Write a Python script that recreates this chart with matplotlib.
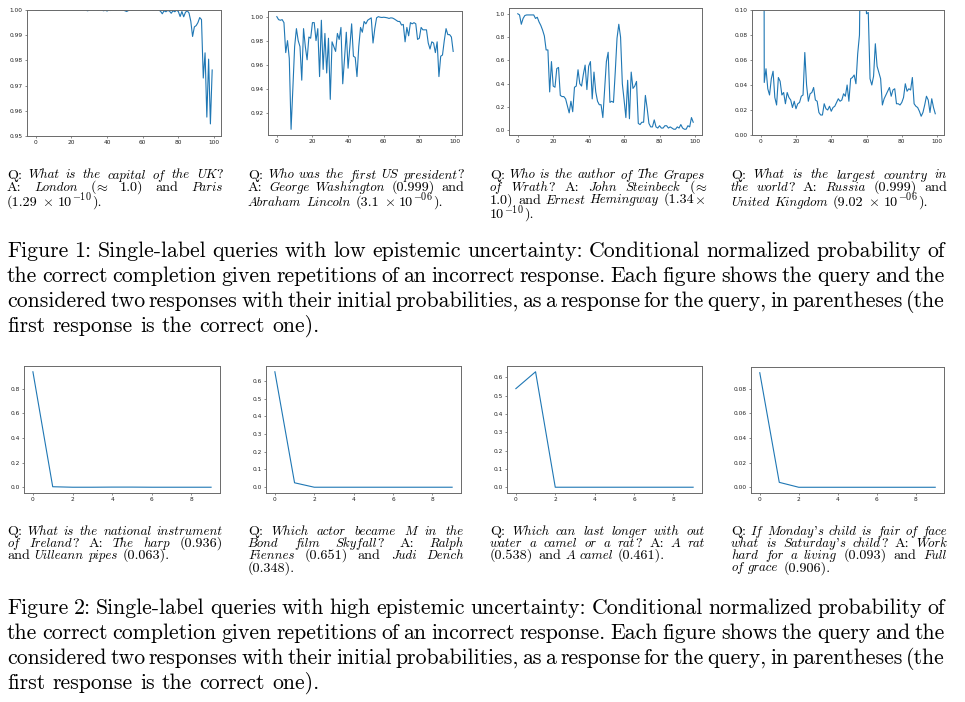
import matplotlib
matplotlib.use("Agg")
import matplotlib.pyplot as plt

plt.rcParams['mathtext.fontset'] = 'cm'

W, H = 965, 702

# ---------------- data ----------------
x_long = list(range(100))
x_short = list(range(10))

uk_london = [1.0, 1.0, 1.0, 1.0, 1.0, 1.0, 1.0, 1.0, 1.0, 1.0,
             1.0, 1.0, 1.0, 1.0, 1.0, 1.0, 1.0, 1.0, 1.0, 1.0,
             1.0, 1.0, 1.0, 1.0, 1.0, 1.0, 1.0, 1.0, 1.0, 0.9997,
             0.9999, 1.0, 1.0, 1.0, 1.0, 0.9999, 1.0, 1.0, 0.9997, 0.9999,
             0.9996, 1.0, 0.9998, 1.0, 1.0, 0.9999, 1.0, 1.0, 1.0, 1.0,
             0.9997, 0.9994, 0.9998, 1.0, 0.9999, 1.0, 1.0, 1.0, 1.0, 1.0,
             1.0, 1.0, 1.0, 1.0, 1.0, 1.0, 0.9999, 1.0, 1.0, 1.0,
             0.9995, 0.9985, 0.9997, 0.9993, 0.9998, 0.9996, 0.9987, 0.9997, 0.9993, 0.9999,
             0.9994, 0.9974, 0.9994, 0.9973, 0.9991, 0.9997, 0.9988, 0.9955, 0.9895, 0.9933,
             0.9938, 0.9950, 0.9970, 0.9962, 0.9730, 0.9830, 0.9575, 0.9805, 0.9548, 0.9762]

us_washington = [1.000, 0.9975, 0.997, 0.9975, 0.995, 0.970, 0.980, 0.965, 0.906, 0.940,
                 0.975, 0.990, 0.980, 0.975, 0.947, 0.990, 0.975, 0.964, 0.983, 0.982,
                 0.995, 0.995, 0.980, 0.990, 0.950, 0.997, 0.956, 0.986, 0.953, 0.982,
                 0.931, 0.979, 0.975, 0.971, 0.986, 0.981, 0.991, 0.944, 0.965, 0.987,
                 0.957, 0.975, 0.994, 0.967, 0.966, 0.950, 0.975, 0.991, 0.987, 0.996,
                 0.994, 0.997, 0.998, 0.999, 0.978, 0.990, 0.999, 1.000, 0.9995, 0.9993,
                 0.9995, 0.9993, 0.999, 0.9985, 0.999, 0.9988, 0.998, 0.997, 0.996, 0.996,
                 0.993, 0.9935, 0.979, 0.991, 0.984, 0.995, 0.994, 0.995, 0.994, 0.981,
                 0.982, 0.991, 0.989, 0.989, 0.989, 0.978, 0.973, 0.979, 0.978, 0.970,
                 0.979, 0.950, 0.967, 0.968, 0.980, 0.990, 0.985, 0.985, 0.983, 0.971]

grapes_steinbeck = [1.00, 0.99, 0.91, 0.96, 0.985, 0.99, 0.99, 0.99, 0.99, 0.99,
                    0.96, 0.97, 0.93, 0.90, 0.86, 0.81, 0.69, 0.69, 0.33, 0.59,
                    0.38, 0.37, 0.53, 0.54, 0.30, 0.29, 0.29, 0.27, 0.21, 0.15,
                    0.25, 0.16, 0.37, 0.38, 0.52, 0.40, 0.38, 0.48, 0.56, 0.35,
                    0.55, 0.59, 0.27, 0.50, 0.33, 0.25, 0.22, 0.22, 0.11, 0.35,
                    0.59, 0.67, 0.24, 0.25, 0.24, 0.50, 0.79, 0.91, 0.80, 0.40,
                    0.26, 0.11, 0.43, 0.10, 0.50, 0.36, 0.38, 0.42, 0.06, 0.05,
                    0.07, 0.07, 0.30, 0.19, 0.06, 0.03, 0.03, 0.09, 0.03, 0.02,
                    0.04, 0.02, 0.02, 0.04, 0.04, 0.02, 0.03, 0.02, 0.01, 0.01,
                    0.03, 0.02, 0.05, 0.02, 0.01, 0.01, 0.04, 0.03, 0.11, 0.07]

russia = [0.999, 0.90, 0.042, 0.053, 0.037, 0.032, 0.045, 0.051, 0.030, 0.024,
          0.046, 0.043, 0.032, 0.034, 0.025, 0.034, 0.030, 0.028, 0.022, 0.027,
          0.021, 0.025, 0.026, 0.031, 0.032, 0.066, 0.040, 0.027, 0.033, 0.034,
          0.038, 0.028, 0.027, 0.018, 0.016, 0.016, 0.025, 0.021, 0.020, 0.023,
          0.019, 0.022, 0.023, 0.026, 0.029, 0.027, 0.028, 0.033, 0.031, 0.040,
          0.027, 0.045, 0.046, 0.048, 0.041, 0.065, 0.080, 0.200, 0.300, 0.120,
          0.097, 0.098, 0.045, 0.040, 0.047, 0.073, 0.055, 0.050, 0.045, 0.024,
          0.029, 0.032, 0.035, 0.038, 0.031, 0.036, 0.037, 0.025, 0.025, 0.024,
          0.026, 0.030, 0.041, 0.035, 0.037, 0.036, 0.046, 0.025, 0.023, 0.022,
          0.019, 0.015, 0.018, 0.024, 0.031, 0.028, 0.018, 0.029, 0.022, 0.017]

ireland_harp = [0.936, 0.005, 0.001, 0.001, 0.002, 0.002, 0.001, 0.001, 0.001, 0.001]
skyfall_fiennes = [0.651, 0.025, 0.0, 0.0, 0.0, 0.0, 0.0, 0.0, 0.0, 0.0]
camel_rat = [0.538, 0.630, 0.0, 0.0, 0.0, 0.0, 0.0, 0.0, 0.0, 0.0]
monday_work = [0.093, 0.004, 0.0, 0.0, 0.0, 0.0, 0.0, 0.0, 0.0, 0.0]

xticks_long = [0, 20, 40, 60, 80, 100]
xticks_short = [0, 2, 4, 6, 8]
yticks = [
    [0.95, 0.96, 0.97, 0.98, 0.99, 1.00],
    [0.92, 0.94, 0.96, 0.98, 1.00],
    [0.0, 0.2, 0.4, 0.6, 0.8, 1.0],
    [0.00, 0.02, 0.04, 0.06, 0.08, 0.10],
    [0.0, 0.2, 0.4, 0.6, 0.8],
    [0.0, 0.1, 0.2, 0.3, 0.4, 0.5, 0.6],
    [0.0, 0.1, 0.2, 0.3, 0.4, 0.5, 0.6],
    [0.00, 0.02, 0.04, 0.06, 0.08],
]
ylims = [(0.95, 1.00), None, None, (0.0, 0.10), None, None, None, None]

series = [(x_long, uk_london), (x_long, us_washington), (x_long, grapes_steinbeck), (x_long, russia),
          (x_short, ireland_harp), (x_short, skyfall_fiennes), (x_short, camel_rat), (x_short, monday_work)]

# axes boxes in pixels: left, top, right, bottom
boxes = [(27, 10, 221, 136), (268, 11, 462, 135), (509, 8, 702, 135), (752, 10, 944, 135),
         (24, 366, 220, 493), (266, 366, 461, 493), (507, 366, 702, 493), (751, 367, 944, 493)]

# markup: *italic*, $math$, ^[superscript]
captions_small = [
    ["Q: *What is the capital of the UK*?",
     "A: *London* ($\\approx$ 1.0) and *Paris*",
     "(1.29 $\\times$ 10^[-10])."],
    ["Q: *Who was the first US president*?",
     "A: *George Washington* (0.999) and",
     "*Abraham Lincoln* (3.1 $\\times$ 10^[-06])."],
    ["Q: *Who is the author of The Grapes*",
     "*of Wrath*? A: *John Steinbeck* ($\\approx$",
     "1.0) and *Ernest Hemingway* (1.34$\\times$",
     "10^[-10])."],
    ["Q: *What is the largest country in*",
     "*the world*? A: *Russia* (0.999) and",
     "*United Kingdom* (9.02 $\\times$ 10^[-06])."],
    ["Q: *What is the national instrument*",
     "*of Ireland*? A: *The harp* (0.936)",
     "and *Uilleann pipes* (0.063)."],
    ["Q: *Which actor became M in the*",
     "*Bond film Skyfall*? A: *Ralph*",
     "*Fiennes* (0.651) and *Judi Dench*",
     "(0.348)."],
    ["Q: *Which can last longer with out*",
     "*water a camel or a rat*? A: *A rat*",
     "(0.538) and *A camel* (0.461)."],
    ["Q: *If Monday*'*s child is fair of face*",
     "*what is Saturday*'*s child*? A: *Work*",
     "*hard for a living* (0.093) and *Full*",
     "*of grace* (0.906)."],
]

fig1_caption = [
    "Figure 1: Single-label queries with low epistemic uncertainty: Conditional normalized probability of",
    "the correct completion given repetitions of an incorrect response. Each figure shows the query and the",
    "considered two responses with their initial probabilities, as a response for the query, in parentheses (the",
    "first response is the correct one).",
]
fig2_caption = [
    "Figure 2: Single-label queries with high epistemic uncertainty: Conditional normalized probability of",
    "the correct completion given repetitions of an incorrect response. Each figure shows the query and the",
    "considered two responses with their initial probabilities, as a response for the query, in parentheses (the",
    "first response is the correct one).",
]

# ---------------- figure ----------------
fig = plt.figure(figsize=(W / 100, H / 100), dpi=100)
fig.patch.set_facecolor('white')

for i, ((xs, ys), (l, t, r, b)) in enumerate(zip(series, boxes)):
    ax = fig.add_axes([l / W, 1 - b / H, (r - l) / W, (b - t) / H])
    ax.plot(xs, ys, color='#1f77b4', lw=0.8)
    ax.set_xticks(xticks_long if i < 4 else xticks_short)
    ax.set_yticks(yticks[i])
    if ylims[i] is not None:
        ax.set_ylim(*ylims[i])
    ax.tick_params(labelsize=4.2, length=1.6, width=0.4, pad=1.5,
                   colors='#333333', labelcolor='#222222')
    for sp in ax.spines.values():
        sp.set_linewidth(0.7)
        sp.set_color('#6a6a6a')

# ---------------- justified text ----------------
renderer = fig.canvas.get_renderer()
IT_SCALE = 0.91


def parse_line(line, state):
    words = []
    for raw in line.split(' '):
        segs = []
        buf = ''
        i = 0

        def flush(b):
            if b:
                segs.append((b, 'it' if state[0] else 'rm'))
            return ''
        while i < len(raw):
            c = raw[i]
            if c == '*':
                buf = flush(buf)
                state[0] = not state[0]
                i += 1
            elif c == '$':
                buf = flush(buf)
                j = raw.index('$', i + 1)
                segs.append((raw[i:j + 1], 'math'))
                i = j + 1
            elif c == '^' and raw[i + 1:i + 2] == '[':
                buf = flush(buf)
                j = raw.index(']', i + 2)
                segs.append(('$' + raw[i + 2:j] + '$', 'sup'))
                i = j + 1
            else:
                buf += c
                i += 1
        flush(buf)
        words.append(segs)
    return words


def make_seg(s, style, fs):
    """Return text object, advance width, x shift, y raise (px)."""
    px = fs * 100 / 72
    kw = dict(va='baseline', ha='left', color='black')
    shift, raise_ = 0.0, 0.0
    if style == 'rm':
        t = fig.text(0, 0, s, fontfamily='cmr10', fontsize=fs, **kw)
    elif style == 'it':
        t = fig.text(0, 0, s, fontfamily='cmmi10', fontsize=fs * IT_SCALE, **kw)
    elif style == 'sup':
        t = fig.text(0, 0, s, fontsize=fs * 0.72, **kw)
        raise_ = 0.36 * px
    else:
        t = fig.text(0, 0, s, fontsize=fs, **kw)
    w = t.get_window_extent(renderer).width
    if style == 'math' and '\\approx' in s:
        shift = 0.17 * px
        w -= 2 * shift
    if style == 'sup':
        w += 0.05 * px
    return t, w, shift, raise_


def paragraph(lines, x0, x1, baselines, fs):
    state = [False]
    px = fs * 100 / 72
    for li, (line, yb) in enumerate(zip(lines, baselines)):
        words = parse_line(line, state)
        wobjs = [[make_seg(s, st, fs) for s, st in segs] for segs in words]
        widths = [sum(o[1] for o in ob) for ob in wobjs]
        total = sum(widths)
        last = (li == len(lines) - 1)
        if last or len(words) == 1:
            gap = 0.333 * px
        else:
            gap = (x1 - x0 - total) / (len(words) - 1)
        x = x0
        for objs, wd in zip(wobjs, widths):
            xx = x
            for tobj, w, shift, rz in objs:
                tobj.set_position(((xx - shift) / W, 1 - (yb - rz) / H))
                xx += w
            x += wd + gap


cols = [(7, 223), (248, 464), (490, 705), (731, 947)]
top_base = [[178.5, 191, 205.5], [178.5, 191, 205.5], [178.5, 191, 203.5, 218], [178.5, 191, 205.5]]
bot_base = [535, 547, 559, 571.5]
fs_small = 10.2
for i, cap in enumerate(captions_small):
    x0, x1 = cols[i % 4]
    paragraph(cap, x0, x1, top_base[i] if i < 4 else bot_base, fs_small)

fs_big = 15.7
paragraph(fig1_caption, 7, 945, [257, 282, 307, 332], fs_big)
paragraph(fig2_caption, 7, 945, [614, 639, 664, 689], fs_big)

fig.savefig('out.png', dpi=100)
